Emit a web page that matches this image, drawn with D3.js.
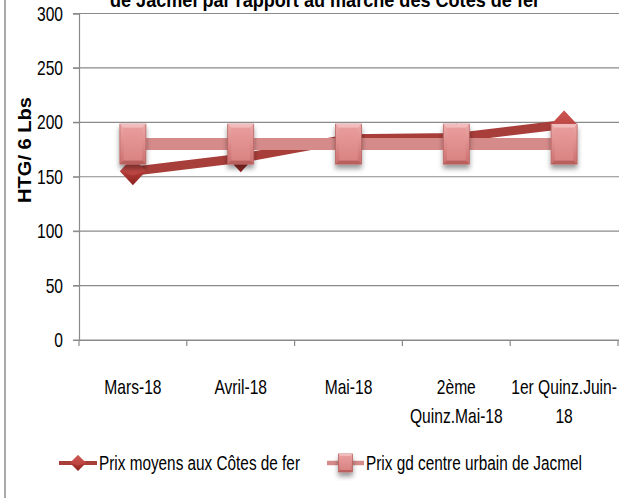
<!DOCTYPE html>
<html>
<head>
<meta charset="utf-8">
<script src="https://cdn.jsdelivr.net/npm/d3@7"></script>
<style>
  html, body { margin: 0; padding: 0; background: #fff; }
  svg { display: block; }
  text { font-family: "Liberation Sans", Arial, sans-serif; fill: #000; }
</style>
</head>
<body>
<svg id="chart" width="619" height="498"></svg>
<script>
// ---- data ----
const categories = ["Mars-18", "Avril-18", "Mai-18", "2ème Quinz.Mai-18", "1er Quinz.Juin-18"];
const categoryLabelLines = [["Mars-18"], ["Avril-18"], ["Mai-18"], ["2ème", "Quinz.Mai-18"], ["1er Quinz.Juin-", "18"]];
const seriesNames = ["Prix moyens aux Côtes de fer", "Prix gd centre urbain de Jacmel"];
const prixCotesDeFer = [155, 167, 185, 186, 198];
const prixJacmel = [180, 180, 180, 180, 180];
const yTicks = [0, 50, 100, 150, 200, 250, 300];
const yLabel = "HTG/ 6 Lbs";
const titleText = "de Jacmel par rapport au marché des Côtes de fer";

// ---- layout ----
const svg = d3.select("#chart");
const plotLeft = 79, plotRight = 618, plotTop = 13.5, plotBottom = 340;
const SX = 0.78; // horizontal condensation of the text

const x = d3.scaleBand().domain(categories).range([plotLeft, plotRight]).padding(0);
const y = d3.scaleLinear().domain([0, 300]).range([plotBottom, plotTop]);
const cx = c => x(c) + x.bandwidth() / 2;

function ctext(parent, px, py, str, anchor, size, weight) {
  const g = parent.append("g").attr("transform", `translate(${px},${py}) scale(${SX},1)`);
  return g.append("text").attr("x", 0).attr("y", 0).attr("text-anchor", anchor || "start")
    .attr("font-size", size || 20).attr("font-weight", weight || "normal").text(str);
}

// defs: gradients and shadow
const defs = svg.append("defs");
const gSq = defs.append("linearGradient").attr("id", "sqGrad").attr("x1", 0).attr("y1", 0).attr("x2", 0).attr("y2", 1);
gSq.append("stop").attr("offset", "0%").attr("stop-color", "#eba9a8");
gSq.append("stop").attr("offset", "45%").attr("stop-color", "#df8f8e");
gSq.append("stop").attr("offset", "100%").attr("stop-color", "#c96f6e");
const gSqIn = defs.append("linearGradient").attr("id", "sqInGrad").attr("x1", 0).attr("y1", 0).attr("x2", 0).attr("y2", 1);
gSqIn.append("stop").attr("offset", "0%").attr("stop-color", "#e89c9b");
gSqIn.append("stop").attr("offset", "100%").attr("stop-color", "#d98483");
const gDi = defs.append("linearGradient").attr("id", "diGrad").attr("x1", 0).attr("y1", 0).attr("x2", 0).attr("y2", 1);
gDi.append("stop").attr("offset", "0%").attr("stop-color", "#d4605c");
gDi.append("stop").attr("offset", "50%").attr("stop-color", "#b33c38");
gDi.append("stop").attr("offset", "100%").attr("stop-color", "#8a2320");
const sh = defs.append("filter").attr("id", "shadow").attr("x", "-50%").attr("y", "-50%").attr("width", "200%").attr("height", "200%");
sh.append("feDropShadow").attr("dx", 0).attr("dy", 4).attr("stdDeviation", 2.5).attr("flood-color", "#000").attr("flood-opacity", 0.4);

// left border of chart area
svg.append("line").attr("x1", 5).attr("x2", 5).attr("y1", 0).attr("y2", 498)
  .attr("stroke", "#8c8c8c").attr("stroke-width", 1.5);

// title (partially cut off at the top, as in the reference)
svg.append("text").attr("x", 110).attr("y", 7).attr("text-anchor", "start")
  .attr("font-size", 20).attr("font-weight", "bold")
  .attr("textLength", 430).attr("lengthAdjust", "spacingAndGlyphs").text(titleText);

// gridlines
svg.append("g").selectAll("line").data(yTicks).join("line")
  .attr("x1", plotLeft - 6).attr("x2", 619)
  .attr("y1", d => y(d)).attr("y2", d => y(d))
  .attr("stroke", "#8a8a8a").attr("stroke-width", 1.2);

// y axis
const yAxis = svg.append("g").attr("transform", `translate(${plotLeft},0)`)
  .call(d3.axisLeft(y).tickValues(yTicks).tickSize(6).tickFormat(""));
yAxis.select(".domain").attr("stroke", "#8a8a8a").attr("stroke-width", 1.2);
yAxis.selectAll(".tick line").attr("stroke", "#8a8a8a");
const yLab = svg.append("g");
yTicks.forEach(v => ctext(yLab, 63, y(v) + 7, String(v), "end", 20));

// x axis
const xAxis = svg.append("g").attr("transform", `translate(0,${plotBottom})`)
  .call(d3.axisBottom(x).tickSize(0).tickFormat(""));
xAxis.select(".domain").attr("stroke", "#8a8a8a").attr("stroke-width", 1.2);
const bounds = categories.map(c => x(c)).concat([x(categories[categories.length - 1]) + x.bandwidth()]);
svg.append("g").selectAll("line").data(bounds).join("line")
  .attr("x1", d => d).attr("x2", d => d).attr("y1", plotBottom).attr("y2", plotBottom + 6)
  .attr("stroke", "#8a8a8a").attr("stroke-width", 1.2);

// x labels
const xLab = svg.append("g");
categories.forEach((c, i) => {
  categoryLabelLines[i].forEach((ln, j) => {
    ctext(xLab, cx(c), 394 + j * 29, ln, "middle", 20);
  });
});

// y label
svg.append("text").attr("transform", `translate(31,150) rotate(-90)`).attr("text-anchor", "middle")
  .attr("font-weight", "bold").attr("font-size", 19)
  .attr("textLength", 106).attr("lengthAdjust", "spacingAndGlyphs").text(yLabel);

// series 1: line
const line = d3.line().x((d, i) => cx(categories[i])).y(d => y(d));
svg.append("path").datum(prixCotesDeFer).attr("d", line)
  .attr("fill", "none").attr("stroke", "#a83e3a").attr("stroke-width", 9);

function diamond(sel, hw, hh) {
  sel.append("polygon").attr("points", `0,${-hh} ${hw},0 0,${hh} ${-hw},0`).attr("fill", "url(#diGrad)");
  sel.append("polygon").attr("points", `0,${-hh} ${hw},0 0,${hh * 0.3} ${-hw},0`).attr("fill", "#c9504c").attr("opacity", 0.55);
}
svg.append("g").selectAll("g").data(prixCotesDeFer).join("g")
  .attr("transform", (d, i) => `translate(${cx(categories[i])},${y(d)})`)
  .each(function () { diamond(d3.select(this), 13, 14); });

// series 2: line
svg.append("path").datum(prixJacmel).attr("d", line)
  .attr("fill", "none").attr("stroke", "#d58b8a").attr("stroke-width", 12);

function square(sel, hw, hh) {
  sel.append("rect").attr("x", -hw).attr("y", -hh).attr("width", 2 * hw).attr("height", 2 * hh)
    .attr("fill", "url(#sqGrad)").attr("stroke", "#b86463").attr("stroke-width", 0.8).attr("filter", "url(#shadow)");
  const b = Math.min(hw, hh) * 0.28;
  sel.append("polygon").attr("points", `${-hw},${-hh} ${hw},${-hh} ${hw - b},${-hh + b} ${-hw + b},${-hh + b}`).attr("fill", "#f1bcbb");
  sel.append("polygon").attr("points", `${-hw},${hh} ${hw},${hh} ${hw - b},${hh - b} ${-hw + b},${hh - b}`).attr("fill", "#b95f5e");
  sel.append("rect").attr("x", -hw + b).attr("y", -hh + b).attr("width", 2 * (hw - b)).attr("height", 2 * (hh - b)).attr("fill", "url(#sqInGrad)");
}
svg.append("g").selectAll("g").data(prixJacmel).join("g")
  .attr("transform", (d, i) => `translate(${cx(categories[i])},${y(d)})`)
  .each(function () { square(d3.select(this), 13, 20); });

// legend
const legY = 463;
const lg1 = svg.append("g");
lg1.append("line").attr("x1", 59).attr("x2", 97).attr("y1", legY).attr("y2", legY).attr("stroke", "#a83e3a").attr("stroke-width", 4);
diamond(lg1.append("g").attr("transform", `translate(78,${legY})`), 8, 8);
lg1.append("text").attr("x", 99).attr("y", legY + 7).attr("font-size", 20)
  .attr("textLength", 201).attr("lengthAdjust", "spacingAndGlyphs").text(seriesNames[0]);

const lg2 = svg.append("g");
lg2.append("line").attr("x1", 327).attr("x2", 364).attr("y1", legY).attr("y2", legY).attr("stroke", "#d58b8a").attr("stroke-width", 4.5);
square(lg2.append("g").attr("transform", `translate(345.5,${legY})`), 7, 9);
lg2.append("text").attr("x", 366).attr("y", legY + 7).attr("font-size", 20)
  .attr("textLength", 216).attr("lengthAdjust", "spacingAndGlyphs").text(seriesNames[1]);
</script>
</body>
</html>
